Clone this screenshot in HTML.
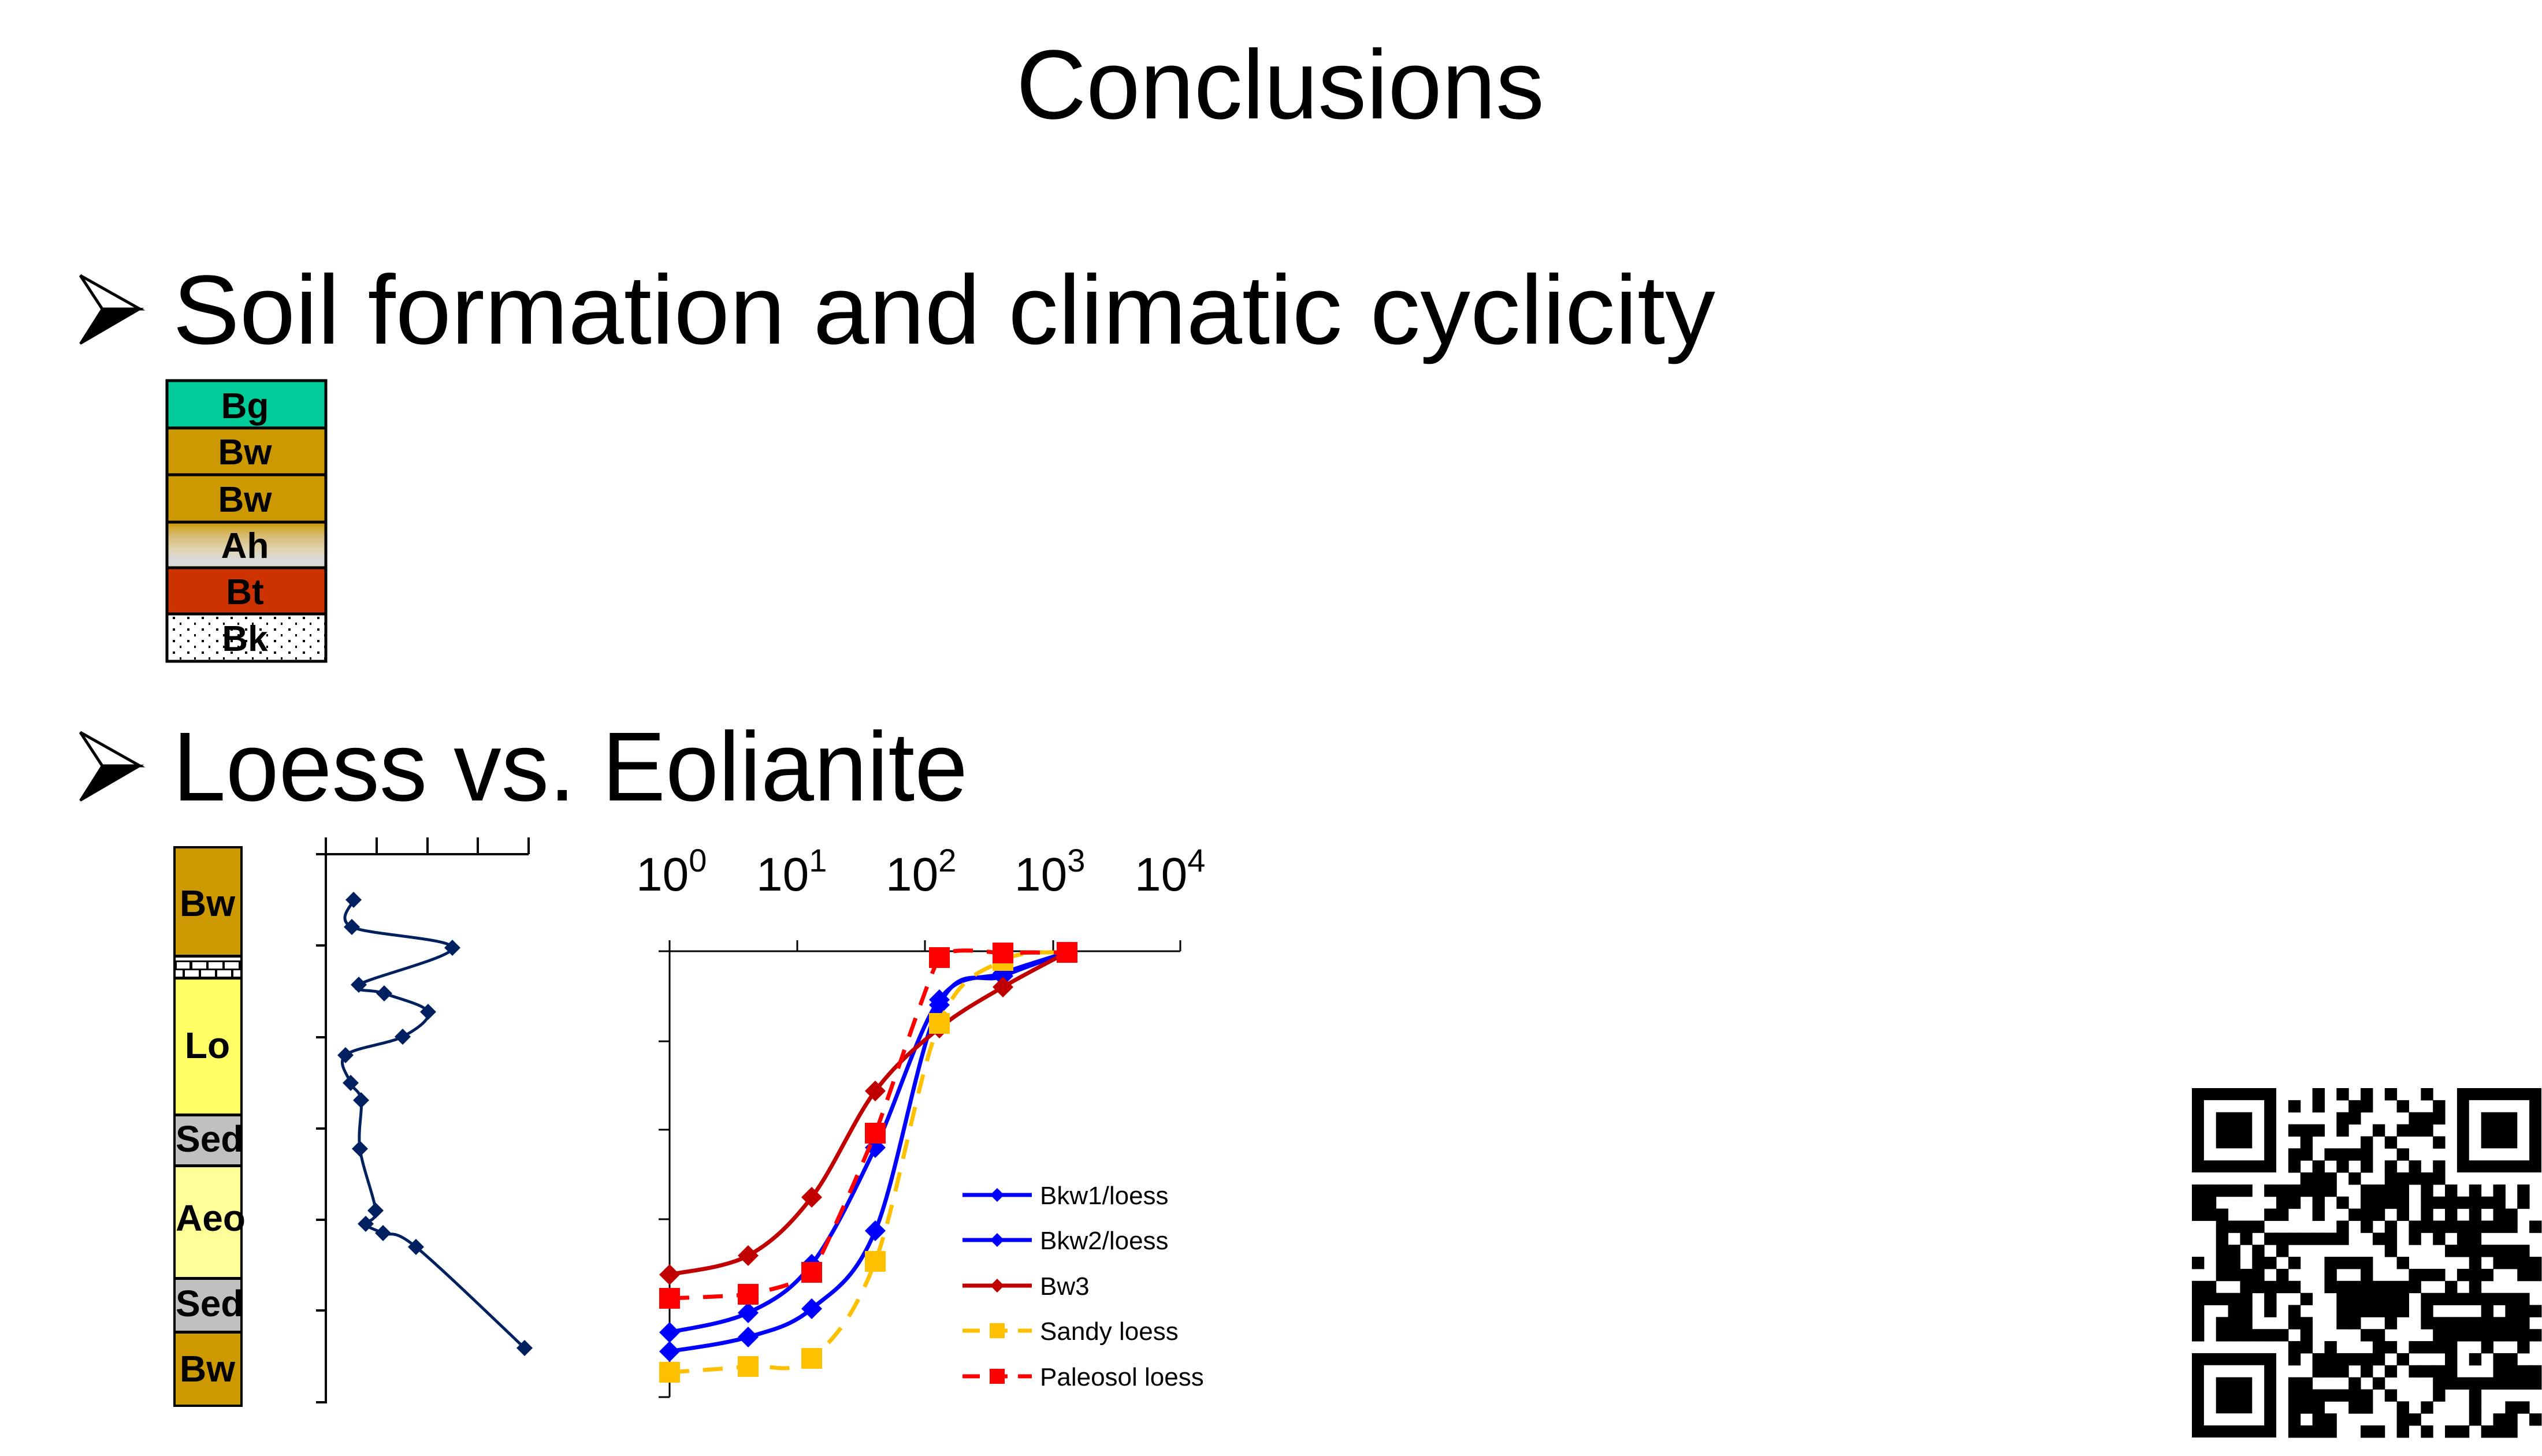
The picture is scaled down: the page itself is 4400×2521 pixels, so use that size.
<!DOCTYPE html>
<html><head><meta charset="utf-8"><style>
html,body{margin:0;padding:0;background:#fff}
svg{display:block}
</style></head><body>
<svg id="s" width="4400" height="2521" viewBox="0 0 4400 2521" xmlns="http://www.w3.org/2000/svg">
<defs>
<linearGradient id="ah" x1="0" y1="0" x2="0" y2="1">
<stop offset="0" stop-color="#cc9900"/><stop offset="0.3" stop-color="#d6bb74"/><stop offset="0.6" stop-color="#e0d3b0"/><stop offset="0.8" stop-color="#d9d9d9"/><stop offset="1" stop-color="#d9d9d9"/>
</linearGradient>
<pattern id="dots" x="289" y="1063" width="25" height="20" patternUnits="userSpaceOnUse">
<rect x="10" y="5" width="4" height="4" fill="#000"/><rect x="22" y="15" width="4" height="4" fill="#000"/>
</pattern>
</defs>
<rect width="4400" height="2521" fill="#fff"/>
<text x="1759" y="205" font-family="Liberation Sans, sans-serif" font-size="170" textLength="914" lengthAdjust="spacingAndGlyphs">Conclusions</text>

<g id="arr1">
<polygon points="139,477 242,535 177,535" fill="#fff" stroke="#000" stroke-width="5" stroke-linejoin="miter"/>
<polygon points="177,535 242,535 139,595" fill="#000" stroke="#000" stroke-width="4"/>
</g>
<use href="#arr1" transform="translate(0,791)"/>
<text x="299" y="595" font-family="Liberation Sans, sans-serif" font-size="170" textLength="2670" lengthAdjust="spacingAndGlyphs">Soil formation and climatic cyclicity</text>
<text x="299" y="1386" font-family="Liberation Sans, sans-serif" font-size="170" textLength="1376" lengthAdjust="spacingAndGlyphs">Loess vs. Eolianite</text>

<g stroke="#000" stroke-width="5">
<rect x="289" y="659" width="275" height="82" fill="#00cc99"/>
<rect x="289" y="741" width="275" height="81" fill="#cc9900"/>
<rect x="289" y="822" width="275" height="82" fill="#cc9900"/>
<rect x="289" y="904" width="275" height="79" fill="url(#ah)"/>
<rect x="289" y="983" width="275" height="80" fill="#cc3300"/>
<rect x="289" y="1063" width="275" height="82" fill="#fff"/>
<rect x="289" y="1063" width="275" height="82" fill="url(#dots)" stroke="none"/>
<rect x="289" y="1063" width="275" height="82" fill="none"/>
</g>
<g font-family="Liberation Sans, sans-serif" font-weight="bold" font-size="62" text-anchor="middle">
<text x="424" y="724">Bg</text><text x="424" y="804">Bw</text><text x="424" y="886">Bw</text>
<text x="424" y="966">Ah</text><text x="424" y="1046">Bt</text><text x="424" y="1127">Bk</text>
</g>

<rect x="300" y="1465" width="120" height="971" fill="#000"/>
<g>
<rect x="304" y="1469" width="112" height="184" fill="#cc9900"/>
<rect x="304" y="1658" width="112" height="5" fill="#fff"/>
<g fill="#fff">
<rect x="306" y="1666" width="22" height="11"/><rect x="333" y="1666" width="24" height="11"/><rect x="361" y="1666" width="24" height="11"/><rect x="389" y="1666" width="24" height="11"/>
<rect x="304" y="1680" width="12" height="11"/><rect x="320" y="1680" width="24" height="11"/><rect x="348" y="1680" width="24" height="11"/><rect x="376" y="1680" width="24" height="11"/><rect x="404" y="1680" width="12" height="11"/>
</g>
<rect x="304" y="1696" width="112" height="232" fill="#ffff66"/>
<rect x="304" y="1933" width="112" height="83" fill="#c0c0c0"/>
<rect x="304" y="2021" width="112" height="190" fill="#ffff99"/>
<rect x="304" y="2216" width="112" height="88" fill="#c0c0c0"/>
<rect x="304" y="2309" width="112" height="123" fill="#cc9900"/>
</g>
<g font-family="Liberation Sans, sans-serif" font-weight="bold" font-size="64">
<text x="359" y="1586" text-anchor="middle">Bw</text>
<text x="359" y="1832" text-anchor="middle">Lo</text>
<text x="304" y="1994">Sed</text>
<text x="304" y="2131">Aeo</text>
<text x="304" y="2279">Sed</text>
<text x="359" y="2392" text-anchor="middle">Bw</text>
</g>

<g stroke="#000" stroke-width="4" fill="none">
<line x1="564" y1="1450" x2="564" y2="2430"/>
<line x1="547" y1="1479" x2="915" y2="1479"/>
<line x1="652" y1="1450" x2="652" y2="1479"/><line x1="740" y1="1450" x2="740" y2="1479"/><line x1="827" y1="1450" x2="827" y2="1479"/><line x1="915" y1="1450" x2="915" y2="1479"/>
<line x1="547" y1="1637" x2="564" y2="1637"/><line x1="547" y1="1796" x2="564" y2="1796"/><line x1="547" y1="1954" x2="564" y2="1954"/><line x1="547" y1="2112" x2="564" y2="2112"/><line x1="547" y1="2269" x2="564" y2="2269"/><line x1="547" y1="2428" x2="564" y2="2428"/>
</g>
<g id="prof"></g>

<g stroke="#000" stroke-width="3" fill="none">
<line x1="1159" y1="1628" x2="1159" y2="2419"/>
<line x1="1140" y1="1647" x2="2043" y2="1647"/>
<line x1="1380" y1="1628" x2="1380" y2="1647"/><line x1="1601" y1="1628" x2="1601" y2="1647"/><line x1="1823" y1="1628" x2="1823" y2="1647"/><line x1="2043" y1="1628" x2="2043" y2="1647"/>
<line x1="1140" y1="1803" x2="1159" y2="1803"/><line x1="1140" y1="1956" x2="1159" y2="1956"/><line x1="1140" y1="2111" x2="1159" y2="2111"/><line x1="1140" y1="2419" x2="1159" y2="2419"/>
</g>
<g font-family="Liberation Sans, sans-serif" font-size="82">
<text x="1101" y="1542">10<tspan font-size="56" dy="-33">0</tspan></text>
<text x="1309" y="1542">10<tspan font-size="56" dy="-33">1</tspan></text>
<text x="1533" y="1542">10<tspan font-size="56" dy="-33">2</tspan></text>
<text x="1756" y="1542">10<tspan font-size="56" dy="-33">3</tspan></text>
<text x="1964" y="1542">10<tspan font-size="56" dy="-33">4</tspan></text>
</g>
<g id="ser"></g>
<g id="leg" font-family="Liberation Sans, sans-serif" font-size="44"></g>
<g id="qr" fill="#000"></g>
</svg>
<script>
var NS="http://www.w3.org/2000/svg";
function el(p,t,a){var e=document.createElementNS(NS,t);for(var k in a)e.setAttribute(k,a[k]);p.appendChild(e);return e;}
function smooth(P,t){t=t||6;var d="M"+P[0][0]+","+P[0][1];for(var i=0;i<P.length-1;i++){var p0=P[i>0?i-1:0],p1=P[i],p2=P[i+1],p3=P[i+2<P.length?i+2:i+1];
d+=" C"+(p1[0]+(p2[0]-p0[0])/t)+","+(p1[1]+(p2[1]-p0[1])/t)+" "+(p2[0]-(p3[0]-p1[0])/t)+","+(p2[1]-(p3[1]-p1[1])/t)+" "+p2[0]+","+p2[1];}return d;}
function diamond(g,x,y,r,c){el(g,"polygon",{points:(x)+","+(y-r)+" "+(x+r)+","+y+" "+x+","+(y+r)+" "+(x-r)+","+y,fill:c});}
function square(g,x,y,r,c){el(g,"rect",{x:x-r,y:y-r,width:2*r,height:2*r,fill:c});}
var pg=document.getElementById("prof");
var PP=[[612,1558],[609,1605],[783,1641],[621,1705],[665,1720],[741,1752],[697,1795],[598,1827],[607,1875],[625,1905],[623,1989],[650,2096],[633,2119],[663,2135],[720,2159],[908,2334]];
el(pg,"path",{d:smooth(PP),fill:"none",stroke:"#002060","stroke-width":5});
PP.forEach(function(p){diamond(pg,p[0],p[1],14,"#002060");});
var X=[1159,1295,1405,1515,1626,1736,1847];
var S=[
{c:"#0000ff",m:"d",dash:null,t:6,y:[2307,2273,2189,1987,1731,1685,1649],n:"Bkw1/loess"},
{c:"#0000ff",m:"d",dash:null,t:6,y:[2340,2315,2266,2131,1740,1690,1649],n:"Bkw2/loess"},
{c:"#c00000",m:"d",dash:null,t:6,y:[2207,2174,2073,1889,1780,1709,1649],n:"Bw3"},
{c:"#ffc000",m:"s",dash:"34 24",t:6,y:[2376,2366,2352,2184,1772,1663,1649],n:"Sandy loess"},
{c:"#ff0000",m:"s",dash:"34 24",t:14,y:[2248,2241,2203,1962,1658,1650,1649],n:"Paleosol loess"}];
var sg=document.getElementById("ser"),lg=document.getElementById("leg");
var LY=[2069,2147,2226,2304,2383];
S.forEach(function(s,i){var P=X.map(function(x,j){return [x,s.y[j]];});
var a={d:smooth(P,s.t),fill:"none",stroke:s.c,"stroke-width":7};if(s.dash)a["stroke-dasharray"]=s.dash;el(sg,"path",a);
P.forEach(function(p){if(s.m=="d")diamond(sg,p[0],p[1],18,s.c);else square(sg,p[0],p[1],18,s.c);});
var la={x1:1666,y1:LY[i],x2:1786,y2:LY[i],stroke:s.c,"stroke-width":7};if(s.dash)la["stroke-dasharray"]="30 18";el(lg,"line",la);
if(s.m=="d")diamond(lg,1726,LY[i],12,s.c);else square(lg,1726,LY[i],13,s.c);
var t=el(lg,"text",{x:1800,y:LY[i]+16});t.textContent=s.n;});
var R=[[10,12,14,16,19],[8,10,13,14,17,20],[12,13,18,19,20],[8,9,10,12,15,17,18,19],[9,14,16,20],[8,9,11,12,13,14,17],[8,10,12,14,16,18,20],[9,10,11,13,16,17,18,19,20],
[0,1,2,3,4,6,7,8,9,10,11,14,15,16,17,19,21,23,25,27],[0,1,7,8,10,12,14,15,16,17,19,20,21,22,23,24,25,27],[0,1,2,6,7,10,13,14,15,17,19,21,23,25,26],
[2,3,4,5,12,14,16,18,19,20,21,22,23,24,25,26,28],[2,4,6,7,8,9,10,11,12,15,16,18,20,22,23],[2,3,5,7,16,21,22,23,24,25,26,27],[0,2,3,5,6,8,11,12,13,14,17,23,25,26,27,28],
[2,3,4,5,7,11,14,18,19,20,22,23,24,27,28],[0,1,4,5,6,7,8,11,12,13,14,15,16,17,18,21,23],[0,1,2,3,4,6,9,12,13,14,15,16,17,19,20,21,22,23,24,25,26,27],
[0,3,4,6,8,12,13,14,15,16,17,19,24,26,27,28],[0,2,3,4,8,9,12,13,16,19,20,21,22,23,24,25,26,27],[0,2,3,4,5,6,7,9,14,15,20,21,22,23,24,25,26,27,28],
[8,9,11,15,16,18,19,20,21,24,27],[8,10,11,12,13,14,15,17,21,23,25,26],[10,11,12,14,16,18,19,20,21,25,26,27,28],[8,9,13,15,20,21,22,23,24,25,26,27,28],
[8,9,10,11,12,13,14,16,20,23],[8,9,10,13,14,17,19,23,26,27],[8,10,11,17,18,23,25,26,28],[8,9,10,11,14,15,17,19,21,22,24,25,26]];
var qg=document.getElementById("qr"),ox=3794,oy=1884,m=20.86;
R.forEach(function(r,i){r.forEach(function(c){el(qg,"rect",{x:ox+c*m,y:oy+i*m,width:m+0.5,height:m+0.5});});});
function finder(c,r){el(qg,"rect",{x:ox+c*m,y:oy+r*m,width:7*m,height:7*m});el(qg,"rect",{x:ox+(c+1)*m,y:oy+(r+1)*m,width:5*m,height:5*m,fill:"#fff"});el(qg,"rect",{x:ox+(c+2)*m,y:oy+(r+2)*m,width:3*m,height:3*m});}
finder(0,0);finder(22,0);finder(0,22);
</script>
</body></html>
